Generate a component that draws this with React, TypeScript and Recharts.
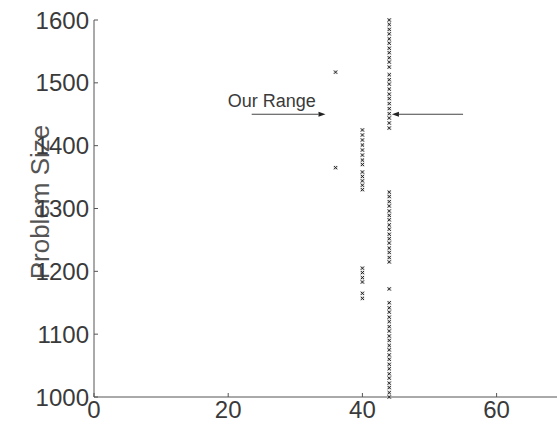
import { ReferenceDot, ReferenceLine, Scatter, ScatterChart, XAxis, YAxis } from "recharts"

// problem sizes that landed in each column of the plot
const sizesAt36 = [1365, 1517]
const sizesAt40 = [
  1425, 1417, 1409, 1401, 1393, 1385, 1377, 1370,
  1358, 1351, 1344, 1337, 1330,
  1205, 1198, 1190, 1183,
  1165, 1157,
]
const sizesAt44 = [
  1600, 1593, 1585, 1578, 1570, 1563, 1555, 1548, 1540, 1533, 1525,
  1513, 1505, 1498, 1490, 1482, 1475, 1467, 1459, 1451, 1444, 1436, 1428,
  1326, 1319, 1311, 1304, 1296, 1289, 1282, 1274, 1267, 1259, 1252, 1245, 1237, 1230, 1222, 1215,
  1172,
  1150, 1142, 1135, 1127, 1120, 1112, 1105, 1097, 1090, 1082, 1075, 1067, 1060, 1052, 1045, 1037,
  1030, 1022, 1015, 1007, 1000,
]

const xTicks = [0, 20, 40, 60]
const yTicks = [1000, 1100, 1200, 1300, 1400, 1500, 1600]

// annotation: "Our Range" with two arrows pointing at the 44 column
const rangeLabel = { x: 26.5, y: 1471, text: "Our Range" }
const leftArrow = [{ x: 23.5, y: 1450 }, { x: 34.5, y: 1450 }]
const rightArrow = [{ x: 55, y: 1450 }, { x: 44.4, y: 1450 }]

const points = [
  ...sizesAt36.map((y) => ({ x: 36, y })),
  ...sizesAt40.map((y) => ({ x: 40, y })),
  ...sizesAt44.map((y) => ({ x: 44, y })),
]

const FONT = "'Liberation Sans', Arial, sans-serif"
const INK = "#3a3a3a"

function Cross(props: any) {
  const { cx, cy } = props
  if (cx == null || cy == null) return null
  const s = 1.6
  return (
    <g>
      <rect x={cx - 2} y={cy - 2} width={4} height={4} fill="#bbb" opacity={0.5} />
      <path
        d={`M${cx - s},${cy - s}L${cx + s},${cy + s}M${cx - s},${cy + s}L${cx + s},${cy - s}`}
        stroke="#222"
        strokeWidth={1}
      />
    </g>
  )
}

function Arrow(props: any) {
  const { x1, y1, x2, y2 } = props
  const dir = x2 > x1 ? 1 : -1
  const len = 7
  return (
    <g>
      <line x1={x1} y1={y1} x2={x2 - dir * len} y2={y2} stroke="#444" strokeWidth={1.2} />
      <polygon
        points={`${x2},${y2} ${x2 - dir * len},${y2 - 2.5} ${x2 - dir * len},${y2 + 2.5}`}
        fill="#222"
      />
    </g>
  )
}

function YLabel(props: any) {
  return (
    <text
      x={40}
      y={202}
      transform="rotate(-90 40 202)"
      textAnchor="middle"
      dominantBaseline="central"
      fontFamily={FONT}
      fontSize={26}
      fill="#555"
    >
      Problem Size
    </text>
  )
}

export default function App() {
  return (
    <div style={{ position: "absolute", left: 0, top: 0, background: "#fff" }}>
      <ScatterChart width={557} height={426} margin={{ top: 20, right: 0, bottom: 1, left: 0 }}>
        <XAxis
          type="number"
          dataKey="x"
          domain={[0, 69]}
          ticks={xTicks}
          allowDataOverflow
          height={28}
          stroke="#555"
          tickSize={-4}
          tickMargin={8}
          tick={{ fill: INK, fontSize: 24, fontFamily: FONT }}
        />
        <YAxis
          type="number"
          dataKey="y"
          domain={[1000, 1600]}
          ticks={yTicks}
          width={94}
          stroke="#555"
          tickSize={-4}
          tickMargin={9}
          tick={{ fill: INK, fontSize: 24, fontFamily: FONT }}
          label={<YLabel />}
        />
        <Scatter data={points} shape={<Cross />} isAnimationActive={false} />
        <ReferenceLine segment={leftArrow} shape={<Arrow />} ifOverflow="visible" />
        <ReferenceLine segment={rightArrow} shape={<Arrow />} ifOverflow="visible" />
        <ReferenceDot
          x={rangeLabel.x}
          y={rangeLabel.y}
          r={0}
          ifOverflow="visible"
          shape={(p: any) => (
            <text
              x={p.cx}
              y={p.cy}
              textAnchor="middle"
              dominantBaseline="central"
              fontFamily={FONT}
              fontSize={18}
              fill={INK}
            >
              {rangeLabel.text}
            </text>
          )}
        />
      </ScatterChart>
    </div>
  )
}
